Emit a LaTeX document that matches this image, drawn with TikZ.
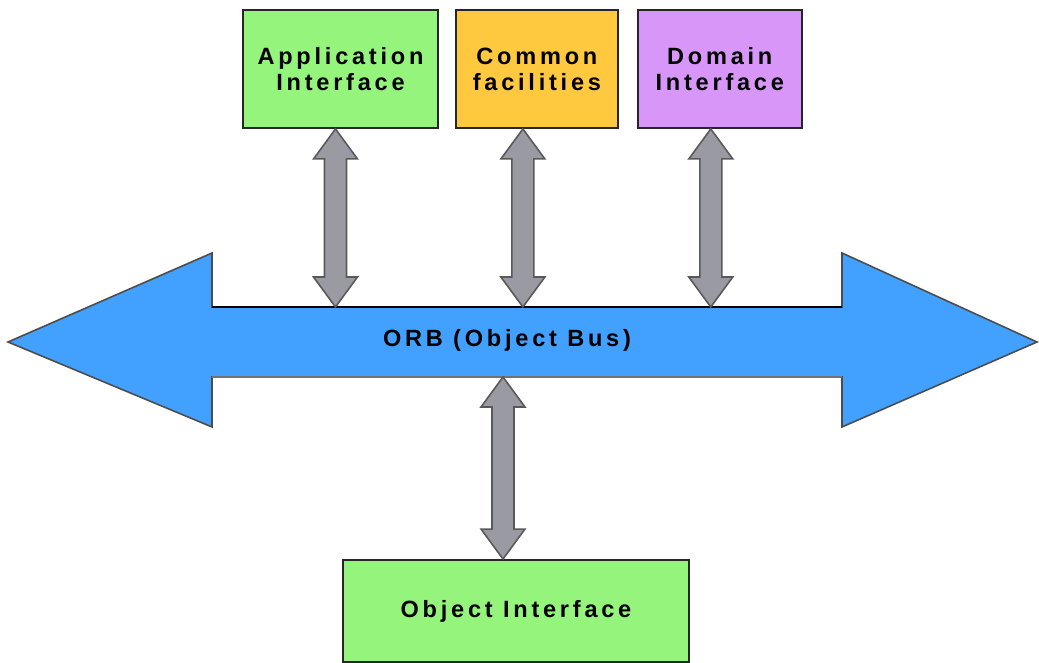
\documentclass[tikz,border=0pt]{standalone}
\usepackage{fontspec}
\usepackage{tikz}
\usetikzlibrary{positioning,calc,shadows}
\newfontfamily\boxfont[LetterSpace=16]{Liberation Sans}
\definecolor{corbagreen}{HTML}{95F47B}
\definecolor{corbaorange}{HTML}{FFC93F}
\definecolor{corbaviolet}{HTML}{D996F9}
\definecolor{corbablue}{HTML}{42A1FF}
\definecolor{corbagray}{HTML}{9A9AA2}

% double-headed grey link, from #1 (upper end) down to #2 (lower end)
\newcommand\corbalink[2]{%
  \draw[link] (#1) -- ($(#1)+(22,-30)$) -- ($(#1)+(11,-30)$) -- ($(#2)+(11,30)$)
    -- ($(#2)+(22,30)$) -- (#2) -- ($(#2)+(-22,30)$) -- ($(#2)+(-11,30)$)
    -- ($(#1)+(-11,-30)$) -- ($(#1)+(-22,-30)$) -- cycle;}

\begin{document}
\begin{tikzpicture}[
  x=0.02cm, y=0.02cm,
  box/.style={draw=black!85, line width=1.1pt, align=center, minimum height=2.36cm,
              font=\boxfont\bfseries\fontsize{13.4}{14.7}\selectfont,
              drop shadow={shadow xshift=0.6pt, shadow yshift=-0.6pt, opacity=0.45}},
  iface/.style={box, fill=corbagreen},
  facil/.style={box, fill=corbaorange},
  dombox/.style={box, fill=corbaviolet},
  bus/.style={draw=black!70, line width=0.9pt, fill=corbablue},
  link/.style={draw=black!65, line width=0.9pt, fill=corbagray, line join=miter},
]
\useasboundingbox (0,0) rectangle (1039,663);

\node[iface, minimum width=3.9cm] (app) at (340.5,594) {Application\\ Interface};
\node[facil, minimum width=3.24cm, right=0.32cm of app] (common) {Common\\ facilities};
\node[dombox, minimum width=3.28cm, right=0.36cm of common] (dom) {Domain\\ Interface};
\node[iface, minimum width=6.92cm, minimum height=2.04cm] (obj) at (516,52) {Object Interface};

% the object bus
\draw[bus] (8,321) -- (212,410) -- (212,356) -- (842,356) -- (842,410) -- (1037,321)
  -- (842,236) -- (842,286) -- (212,286) -- (212,236) -- cycle;
\draw[line width=1.6pt] (212,356) -- (842,356);
\draw[black!55, line width=1.4pt] (212,286) -- (842,286);
\node[font=\boxfont\bfseries\fontsize{13.4}{14.7}\selectfont] (orb) at (507,323) {ORB (Object Bus)};
\coordinate (bustop) at (0,356);
\coordinate (busbot) at (0,286);

\path ([xshift=-0.1cm]app.south) coordinate (appup);
\path ([xshift=-0.28cm]common.south) coordinate (commonup);
\path ([xshift=-0.18cm]dom.south) coordinate (domup);
\path ([xshift=-0.26cm]obj.north) coordinate (objdn);
\coordinate (appdn) at (appup |- bustop);
\coordinate (commondn) at (commonup |- bustop);
\coordinate (domdn) at (domup |- bustop);
\coordinate (objup) at (objdn |- busbot);

\corbalink{appup}{appdn}
\corbalink{commonup}{commondn}
\corbalink{domup}{domdn}
\corbalink{objup}{objdn}
\end{tikzpicture}
\end{document}
